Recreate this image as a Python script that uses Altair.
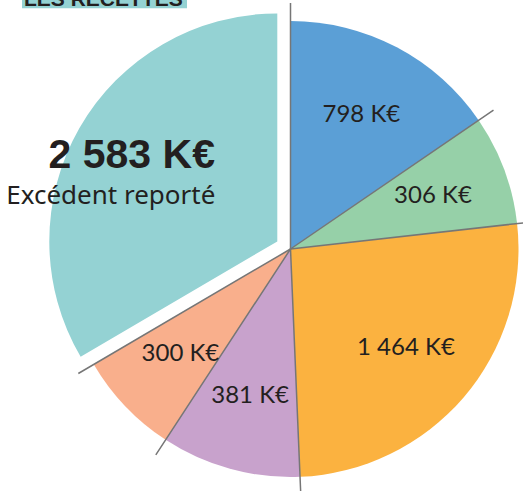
import altair as alt
import pandas as pd

categories = ["c1", "c2", "c3", "c4", "c5", "excedent"]
values_k = [798, 306, 1464, 381, 300, 2583]
angles_deg = [55.6, 28.0, 94.0, 35.6, 26.4, 120.4]
captions = ["", "", "", "", "", "Excédent reporté"]
colors = ["#5b9fd6", "#96d0a8", "#fbb240", "#c8a2cc", "#f9af8c", "#94d2d3"]
title_text = ["LES RECETTES"]


def fr(v):
    return f"{v:,}".replace(",", " ") + " K€"


df = pd.DataFrame({
    "cat": categories,
    "idx": list(range(len(categories))),
    "value": values_k,
    "angle": angles_deg,
    "label": [fr(v) for v in values_k],
    "caption": captions,
})

theta_scale = alt.Scale(domain=[0, 360], nice=False)
color_enc = alt.Color("cat:N", scale=alt.Scale(domain=categories, range=colors), legend=None)

base = (
    alt.Chart(df)
    .transform_window(cum="sum(angle)", sort=[alt.SortField("idx")], frame=[None, 0])
    .transform_calculate(start="datum.cum - datum.angle", mid="datum.cum - datum.angle / 2")
)

EX_DX, EX_DY = -13.2, -7.6

arcs = base.transform_filter("datum.cat != 'excedent'").mark_arc(radius=228).encode(
    theta=alt.Theta("start:Q", stack=None, scale=theta_scale),
    theta2="cum:Q",
    color=color_enc,
)

teal = base.transform_filter("datum.cat == 'excedent'").mark_arc(
    radius=228, xOffset=EX_DX, yOffset=EX_DY
).encode(
    theta=alt.Theta("start:Q", stack=None, scale=theta_scale),
    theta2="cum:Q",
    color=color_enc,
)

lines = base.mark_arc(radius=246, fill="transparent", stroke="#767676", strokeWidth=1.5).encode(
    theta=alt.Theta("cum:Q", stack=None, scale=theta_scale),
    theta2="cum:Q",
)

labels = base.transform_filter("datum.cat != 'excedent'").mark_text(
    radius=152, font="Lato", fontSize=24, color="#231f20", baseline="middle", align="center"
).encode(
    theta=alt.Theta("mid:Q", stack=None, scale=theta_scale),
    text="label:N",
)

big_label = base.transform_filter("datum.cat == 'excedent'").mark_text(
    radius=170, dx=EX_DX + 2, dy=EX_DY - 1, font="Liberation Sans", fontWeight="bold",
    fontSize=41, color="#231f20", baseline="middle", align="center"
).encode(
    theta=alt.Theta("mid:Q", stack=None, scale=theta_scale),
    text="label:N",
)

caption = base.transform_filter("datum.cat == 'excedent'").mark_text(
    radius=170, dx=EX_DX - 19, dy=EX_DY + 39, font="Noto Sans", fontSize=26,
    color="#231f20", baseline="middle", align="center"
).encode(
    theta=alt.Theta("mid:Q", stack=None, scale=theta_scale),
    text="caption:N",
)

title_df = pd.DataFrame({"t": title_text})
highlight = alt.Chart(title_df).mark_rect(color="#94d2d3").encode(
    x=alt.value(-36), x2=alt.value(129), y=alt.value(-12), y2=alt.value(1.3)
)
title = alt.Chart(title_df).mark_text(
    align="left", baseline="alphabetic", font="Liberation Sans", fontWeight="bold",
    fontSize=21, color="#231f20"
).encode(x=alt.value(-34), y=alt.value(-1.3), text="t:N")

chart = alt.layer(highlight, title, arcs, teal, lines, labels, big_label, caption).properties(
    width=465,
    height=484,
    padding={"left": 58, "top": 7, "right": 0, "bottom": 0},
    autosize="none",
    background="white",
).configure_view(stroke=None)

chart.save("out.html", embed_options={"renderer": "svg", "actions": False})
